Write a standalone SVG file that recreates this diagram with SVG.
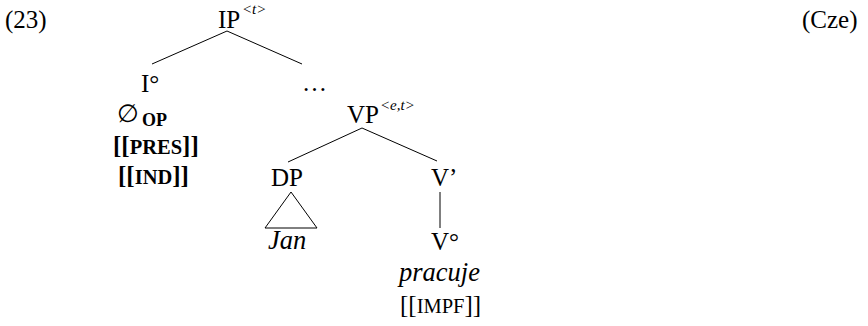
<svg xmlns="http://www.w3.org/2000/svg" width="868" height="326" viewBox="0 0 868 326">
<style>
text{font-family:"Liberation Serif","Times New Roman",serif;font-size:25px;fill:#000}
.it{font-style:italic;font-size:26.5px}
.b{font-weight:bold}
.sup{font-style:italic;font-size:15px}
.sc{font-size:20.5px}
.sub{font-size:18px;font-weight:bold}
.edge{stroke:#000;stroke-width:1;fill:none}
</style>
<rect width="868" height="326" fill="#fff"/>
<g id="connectors">
<line class="edge" x1="227" y1="31" x2="152" y2="64"/>
<line class="edge" x1="227" y1="31" x2="302" y2="64"/>
<line class="edge" x1="362" y1="128" x2="288" y2="162"/>
<line class="edge" x1="362" y1="128" x2="437" y2="161"/>
<line class="edge" x1="440" y1="192" x2="440" y2="228"/>
<polygon class="edge" points="291,192 265,228 317,228"/>
</g>
<g id="label-23"><text x="5" y="28">(23)</text></g>
<g id="label-cze"><text x="802" y="28">(Cze)</text></g>
<g id="IP"><text x="218" y="28">IP</text><text class="sup" x="242" y="14">&lt;t&gt;</text></g>
<g id="I"><text x="141" y="92">I°</text>
<text x="117" y="122" font-size="25">∅</text><text class="sub" x="142" y="126">OP</text>
<text class="b" x="113" y="154">[[<tspan class="sc">PRES</tspan>]]</text>
<text class="b" x="118" y="184">[[<tspan class="sc">IND</tspan>]]</text></g>
<g id="dots"><text x="302" y="91">…</text></g>
<g id="VP"><text x="347" y="123">VP</text><text class="sup" x="380" y="110">&lt;e,t&gt;</text></g>
<g id="DP"><text x="271" y="186">DP</text><text class="it" x="268" y="249">Jan</text></g>
<g id="Vbar"><text x="431" y="186">V’</text></g>
<g id="V0"><text x="431" y="250">V°</text>
<text class="it" x="399" y="281">pracuje</text>
<text x="400" y="313">[[<tspan class="sc">IMPF</tspan>]]</text></g>
</svg>
